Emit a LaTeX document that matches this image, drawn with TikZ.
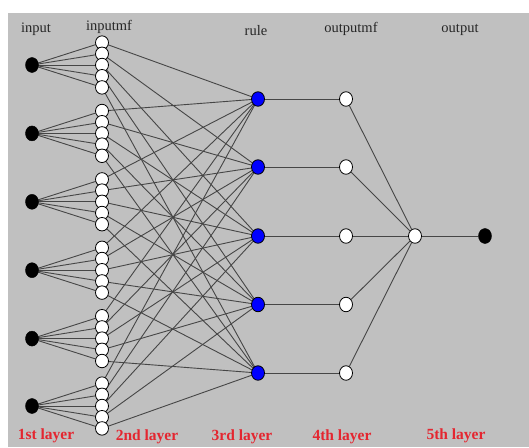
\documentclass[tikz,border=0pt]{standalone}
\usepackage{fontspec}
\setmainfont{Liberation Serif}
\usetikzlibrary{shapes.geometric}
\pgfdeclarelayer{bgl}
\pgfdeclarelayer{edges}
\pgfsetlayers{bgl,edges,main}
\definecolor{bgray}{RGB}{192,192,192}
\definecolor{lred}{RGB}{228,38,48}
\definecolor{edgec}{RGB}{70,70,70}
\tikzset{
  inpnode/.style={ellipse,draw=black,fill=black,minimum width=13pt,minimum height=15pt,inner sep=0pt},
  mfnode/.style={ellipse,draw=black,fill=white,line width=0.8pt,minimum width=13pt,minimum height=13.5pt,inner sep=0pt},
  rulenode/.style={ellipse,draw=black,fill=blue,line width=0.8pt,minimum width=13pt,minimum height=14.5pt,inner sep=0pt},
  omfnode/.style={ellipse,draw=black,fill=white,line width=0.8pt,minimum width=13pt,minimum height=14.5pt,inner sep=0pt},
  outnode/.style={ellipse,draw=black,fill=black,minimum width=13pt,minimum height=15pt,inner sep=0pt},
  toplabel/.style={font=\fontsize{14.5}{16}\selectfont,text=black!85,inner sep=0pt},
  layerlabel/.style={font=\fontsize{15.5}{17}\selectfont\bfseries,text=lred,inner sep=0pt},
  conn/.style={draw=edgec,line width=0.9pt}
}
\begin{document}
\begin{tikzpicture}[x=1pt,y=-1pt]
\useasboundingbox (0,0) rectangle (529,447);
\begin{pgfonlayer}{bgl}
\fill[white] (0,0) rectangle (529,447);
\fill[bgray] (8,13) rectangle (529,447);
\end{pgfonlayer}
% labels
\node[toplabel] (linput) at (36,29) {input};
\node[toplabel] (linputmf) at (109,27) {inputmf};
\node[toplabel] (lrule) at (256,31) {rule};
\node[toplabel] (loutputmf) at (351,29) {outputmf};
\node[toplabel] (loutput) at (460,30) {output};
\node[layerlabel] (l1) at (46,436) {1st layer};
\node[layerlabel] (l2) at (147,437) {2nd layer};
\node[layerlabel] (l3) at (242,437) {3rd layer};
\node[layerlabel] (l4) at (342,437) {4th layer};
\node[layerlabel] (l5) at (456,436) {5th layer};
% input and mf nodes
\foreach \i/\y in {1/65,2/133.4,3/201.8,4/270.2,5/338.6,6/406} {
  \node[inpnode] (in\i) at (32,\y) {};
  \foreach \k in {1,...,5} {
    \node[mfnode] (mf\i-\k) at (102,{\y+(\k-3)*11.2}) {};
  }
}
% rule and output mf nodes
\foreach \k/\y in {1/99,2/167,3/236,4/304.5,5/373} {
  \node[rulenode] (r\k) at (258,\y) {};
  \node[omfnode] (om\k) at (346,\y) {};
}
\node[omfnode] (sum) at (415,236) {};
\node[outnode] (out) at (485,236) {};
% connectors
\begin{pgfonlayer}{edges}
\foreach \i in {1,...,6} {
  \foreach \k in {1,...,5} {
    \draw[conn] (in\i.center) -- (mf\i-\k.center);
    \draw[conn] (mf\i-\k.center) -- (r\k.center);
  }
}
\foreach \k in {1,...,5} {
  \draw[conn] (r\k) -- (om\k);
  \draw[conn] (om\k) -- (sum);
}
\draw[conn] (sum) -- (out);
\end{pgfonlayer}
\end{tikzpicture}
\end{document}
